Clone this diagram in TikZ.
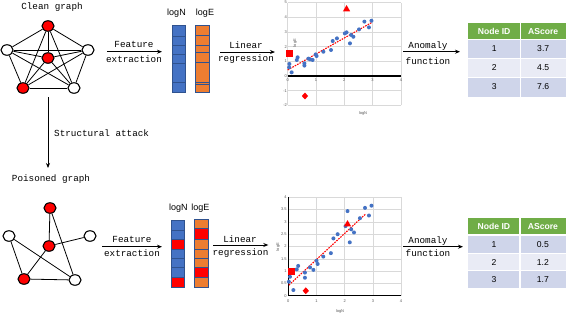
\documentclass[tikz,border=0pt]{standalone}
\usepackage{fontspec}
\setmainfont{Liberation Sans}
\newfontfamily\monof{Liberation Mono}
\usetikzlibrary{shapes.geometric,arrows.meta}
\definecolor{cblue}{HTML}{4472C4}
\definecolor{corange}{HTML}{ED7D31}
\definecolor{cborder}{HTML}{2F528F}
\definecolor{cred}{HTML}{FF0000}
\definecolor{cgreen}{HTML}{70AD47}
\definecolor{rowA}{HTML}{CFD5EA}
\definecolor{rowB}{HTML}{E9EBF5}
\definecolor{cgrid}{HTML}{D9D9D9}
\begin{document}
\begin{tikzpicture}[x=1pt,y=-1pt,
  gnode/.style={ellipse,draw=black,line width=1.1pt,minimum width=12pt,minimum height=10.5pt,inner sep=0pt,fill=white},
  rnode/.style={gnode,fill=cred},
  edge/.style={line width=0.8pt},
  lbl/.style={font=\monof\fontsize{9.3}{10}\selectfont,inner sep=0pt},
  vlbl/.style={font=\fontsize{9}{10}\selectfont,inner sep=0pt},
  arr/.style={-{Stealth[length=5pt,width=4pt]},line width=0.9pt},
  cell/.style={draw=cborder,line width=0.8pt},
  gridline/.style={draw=cgrid,line width=0.5pt},
  axisline/.style={draw=black,line width=1.1pt},
  tick/.style={font=\fontsize{4}{4.5}\selectfont,text=black!65,inner sep=0.6pt},
  axt/.style={font=\fontsize{4}{4.5}\selectfont,text=black!65,inner sep=0pt},
  pt/.style={fill=cblue},
  rsq/.style={rectangle,fill=cred,minimum size=7pt,inner sep=0pt},
  rtri/.style={regular polygon,regular polygon sides=3,fill=cred,minimum size=8.5pt,inner sep=0pt},
  rdia/.style={diamond,fill=cred,minimum width=6.5pt,minimum height=7pt,inner sep=0pt},
  reg/.style={draw=cred,line width=1.1pt,dash pattern=on 1.6pt off 1.1pt},
  thead/.style={font=\bfseries\fontsize{8.6}{10}\selectfont,text=white,inner sep=0pt},
  tval/.style={font=\fontsize{8.6}{10}\selectfont,inner sep=0pt},
  sep/.style={draw=white,line width=1.3pt}
]
\useasboundingbox (0,0) rectangle (570,314);
\fill[white] (0,0) rectangle (570,314);

% ---------- top graph ----------
\node[lbl] (tclean) at (52,7) {Clean graph};
\node[rnode] (n1) at (48,26) {};
\node[gnode] (n2) at (7,50) {};
\node[gnode] (n3) at (88,50) {};
\node[rnode] (n4) at (48,58) {};
\node[rnode] (n5) at (23,88) {};
\node[gnode] (n6) at (74,88) {};
\foreach \a/\b in {n1/n2,n1/n3,n1/n4,n1/n5,n1/n6,n2/n3,n2/n4,n2/n5,n2/n6,n3/n4,n3/n5,n3/n6,n4/n5,n4/n6,n5/n6}
  \draw[edge] (\a) -- (\b);

% structural attack arrow
\coordinate (va) at (48,97);
\coordinate (vb) at (48,168);
\draw[arr] (va) -- (vb);
\node[lbl,anchor=west] (tattack) at (54,133) {Structural attack};
\node[lbl] (tpois) at (51,179) {Poisoned graph};

% ---------- bottom graph ----------
\node[rnode] (m1) at (50,208) {};
\node[gnode] (m2) at (9,236) {};
\node[gnode] (m3) at (90,236) {};
\node[rnode] (m4) at (49,246) {};
\node[rnode] (m5) at (24,279) {};
\node[gnode] (m6) at (75,280) {};
\foreach \a/\b in {m1/m4,m1/m6,m4/m3,m4/m5,m2/m5,m2/m6,m5/m6}
  \draw[edge] (\a) -- (\b);

% ---------- feature arrows ----------
\coordinate (fa1) at (107,51.7); \coordinate (fb1) at (162,51.7);
\draw[arr] (fa1) -- (fb1);
\node[lbl] (tfe1) at (134,44.3) {Feature};
\node[lbl] (tex1) at (134,59.3) {extraction};
\coordinate (fa2) at (102,246.7); \coordinate (fb2) at (162,246.7);
\draw[arr] (fa2) -- (fb2);
\node[lbl] (tfe2) at (132,239.3) {Feature};
\node[lbl] (tex2) at (132,253.3) {extraction};

% ---------- top vectors ----------
\node[vlbl] (tlN1) at (176.5,13) {logN};
\node[vlbl] (tlE1) at (205,13) {logE};
\fill[cblue] (172,25.5) rectangle (185.3,92.8);
\foreach \y in {36,45.3,54,63.3,82.3} \draw[cell] (172,\y) -- (185.3,\y);
\draw[cell] (172,25.5) rectangle (185.3,92.8);
\fill[corange] (195.3,25.5) rectangle (209.7,92.8);
\foreach \y in {35.7,45,52.3,62.7,82.3,84} \draw[cell] (195.3,\y) -- (209.7,\y);
\draw[cell] (195.3,25.5) rectangle (209.7,92.8);

% ---------- bottom vectors ----------
\node[vlbl] (tlN2) at (178.3,207.7) {logN};
\node[vlbl] (tlE2) at (200.3,207.7) {logE};
\fill[cblue] (171.3,220.3) rectangle (184.7,287.5);
\fill[cred] (171.3,239.7) rectangle (184.7,249);
\fill[cred] (171.3,277) rectangle (184.7,287.5);
\foreach \y in {230.3,239.7,249,258.3,267.7,277} \draw[cell] (171.3,\y) -- (184.7,\y);
\draw[cell] (171.3,220.3) rectangle (184.7,287.5);
\fill[corange] (194.7,219.5) rectangle (208.7,287.5);
\fill[cred] (194.7,228.7) rectangle (208.7,239.7);
\fill[cred] (194.7,267.7) rectangle (208.7,277);
\foreach \y in {228.7,239.7,249,258.3,267.7,277} \draw[cell] (194.7,\y) -- (208.7,\y);
\draw[cell] (194.7,219.5) rectangle (208.7,287.5);

% ---------- linear regression arrows ----------
\coordinate (la1) at (220,52); \coordinate (lb1) at (275,52);
\draw[arr] (la1) -- (lb1);
\node[lbl] (tli1) at (246,45) {Linear};
\node[lbl] (tre1) at (246,59) {regression};
\coordinate (la2) at (213.3,245); \coordinate (lb2) at (268.3,245);
\draw[arr] (la2) -- (lb2);
\node[lbl] (tli2) at (240,239.3) {Linear};
\node[lbl] (tre2) at (240.5,253) {regression};

% ---------- top chart ----------
\begin{scope}[shift={(287.7,76)},x=28.3pt,y=14.7pt]
  \foreach \v in {-2,...,5} \draw[gridline] (0,\v) -- (4,\v);
  \foreach \u in {0,...,4} \draw[gridline] (\u,-2) -- (\u,5);
  \draw[axisline] (0,0) -- (4,0);
  \foreach \v [count=\i] in {5,4,3,2,1,0,-1,-2} \node[tick,anchor=east] (ty\i) at (0,\v) {\v};
  \foreach \u [count=\i] in {0,...,4} \node[tick,anchor=north] (tx\i) at (\u,-0.15) {\u};
  \draw[reg] (0,0.41) -- (2.96,3.63);
  \foreach \p in {(0.05,0.59),(0.06,0.82),(0.14,0.25),(0.32,1.09),(0.35,1.27),(0.59,0.86),(0.59,0.71),(0.73,1.18),(0.79,1.13),(0.88,1.09),(0.99,1.47),(1.02,1.36),(1.26,1.65),(1.53,1.77),(1.59,2.38),(1.74,2.56),(2.02,2.9),(2.08,2.97),(2.2,2.22),(2.24,2.79),(2.32,2.67),(2.52,3.17),(2.71,3.7),(2.87,3.31),(2.96,3.76)}
    \fill[pt] \p circle[radius=2pt];
  \node[rsq] (ra1) at (0.08,1.5) {};
  \node[rtri] (ra2) at (2.08,4.54) {};
  \node[rdia] (ra3) at (0.61,-1.36) {};
\end{scope}
\node[axt] (tcx1) at (363,113) {logN};
\node[axt,rotate=90] (tcy1) at (295,43) {logE};

% ---------- bottom chart ----------
\begin{scope}[shift={(288.3,295.7)},x=28.2pt,y=24.6pt]
  \foreach \v in {0,0.5,...,4} \draw[gridline] (0,\v) -- (4,\v);
  \foreach \u in {1,...,4} \draw[gridline] (\u,0) -- (\u,4);
  \draw[axisline] (0,0) -- (4,0);
  \draw[axisline] (0,0) -- (0,4);
  \foreach \v [count=\i] in {0,0.5,1,1.5,2,2.5,3,3.5,4} \node[tick,anchor=east] (by\i) at (-0.03,\v) {\v};
  \foreach \u [count=\i] in {0,...,4} \node[tick,anchor=north] (bx\i) at (\u,-0.12) {\u};
  \draw[reg] (0.02,0.43) -- (2.74,3.32);
  \foreach \p in {(0.02,0.57),(0.06,0.77),(0.18,0.23),(0.3,1.07),(0.35,1.21),(0.59,0.94),(0.59,0.73),(0.77,1.15),(0.89,1.05),(1.0,1.42),(1.04,1.29),(1.24,1.59),(1.51,1.73),(1.6,2.33),(1.75,2.5),(2.1,3.44),(2.03,2.83),(2.23,2.7),(2.18,2.17),(2.33,2.57),(2.54,3.15),(2.72,3.57),(2.86,3.26),(2.95,3.66)}
    \fill[pt] \p circle[radius=2pt];
  \node[rsq] (rb1) at (0.1,0.98) {};
  \node[rtri] (rb2) at (2.1,2.9) {};
  \node[rdia] (rb3) at (0.62,0.2) {};
\end{scope}
\node[axt] (tcx2) at (340,311) {logN};
\node[axt,rotate=90] (tcy2) at (278,247) {logE};

% ---------- anomaly arrows ----------
\coordinate (aa1) at (403,51.7); \coordinate (ab1) at (460,51.7);
\draw[arr] (aa1) -- (ab1);
\node[lbl] (tan1) at (428,46.3) {Anomaly};
\node[lbl] (tfu1) at (428,61) {function};
\coordinate (aa2) at (403,246.7); \coordinate (ab2) at (463,246.7);
\draw[arr] (aa2) -- (ab2);
\node[lbl] (tan2) at (428,240.7) {Anomaly};
\node[lbl] (tfu2) at (428,253.3) {function};

% ---------- top table ----------
\fill[cgreen] (467.7,23.3) rectangle (565.7,39.3);
\fill[rowA] (467.7,39.3) rectangle (565.7,58.3);
\fill[rowB] (467.7,58.3) rectangle (565.7,77.3);
\fill[rowA] (467.7,77.3) rectangle (565.7,96.7);
\foreach \y in {39.3,58.3,77.3} \draw[sep] (467.7,\y) -- (565.7,\y);
\draw[sep] (520.7,23.3) -- (520.7,96.7);
\node[thead] (h11) at (494.2,31.3) {Node ID};
\node[thead] (h12) at (543.2,31.3) {AScore};
\node[tval] (c111) at (494.2,48.8) {1};
\node[tval] (c112) at (543.2,48.8) {3.7};
\node[tval] (c121) at (494.2,67.8) {2};
\node[tval] (c122) at (543.2,67.8) {4.5};
\node[tval] (c131) at (494.2,87) {3};
\node[tval] (c132) at (543.2,87) {7.6};

% ---------- bottom table ----------
\fill[cgreen] (467.7,218.3) rectangle (565.7,235);
\fill[rowA] (467.7,235) rectangle (565.7,253.3);
\fill[rowB] (467.7,253.3) rectangle (565.7,270.7);
\fill[rowA] (467.7,270.7) rectangle (565.7,288.3);
\foreach \y in {235,253.3,270.7} \draw[sep] (467.7,\y) -- (565.7,\y);
\draw[sep] (520,218.3) -- (520,288.3);
\node[thead] (h21) at (493.9,226.6) {Node ID};
\node[thead] (h22) at (542.9,226.6) {AScore};
\node[tval] (c211) at (493.9,244.2) {1};
\node[tval] (c212) at (542.9,244.2) {0.5};
\node[tval] (c221) at (493.9,262) {2};
\node[tval] (c222) at (542.9,262) {1.2};
\node[tval] (c231) at (493.9,279.5) {3};
\node[tval] (c232) at (542.9,279.5) {1.7};
\end{tikzpicture}
\end{document}
